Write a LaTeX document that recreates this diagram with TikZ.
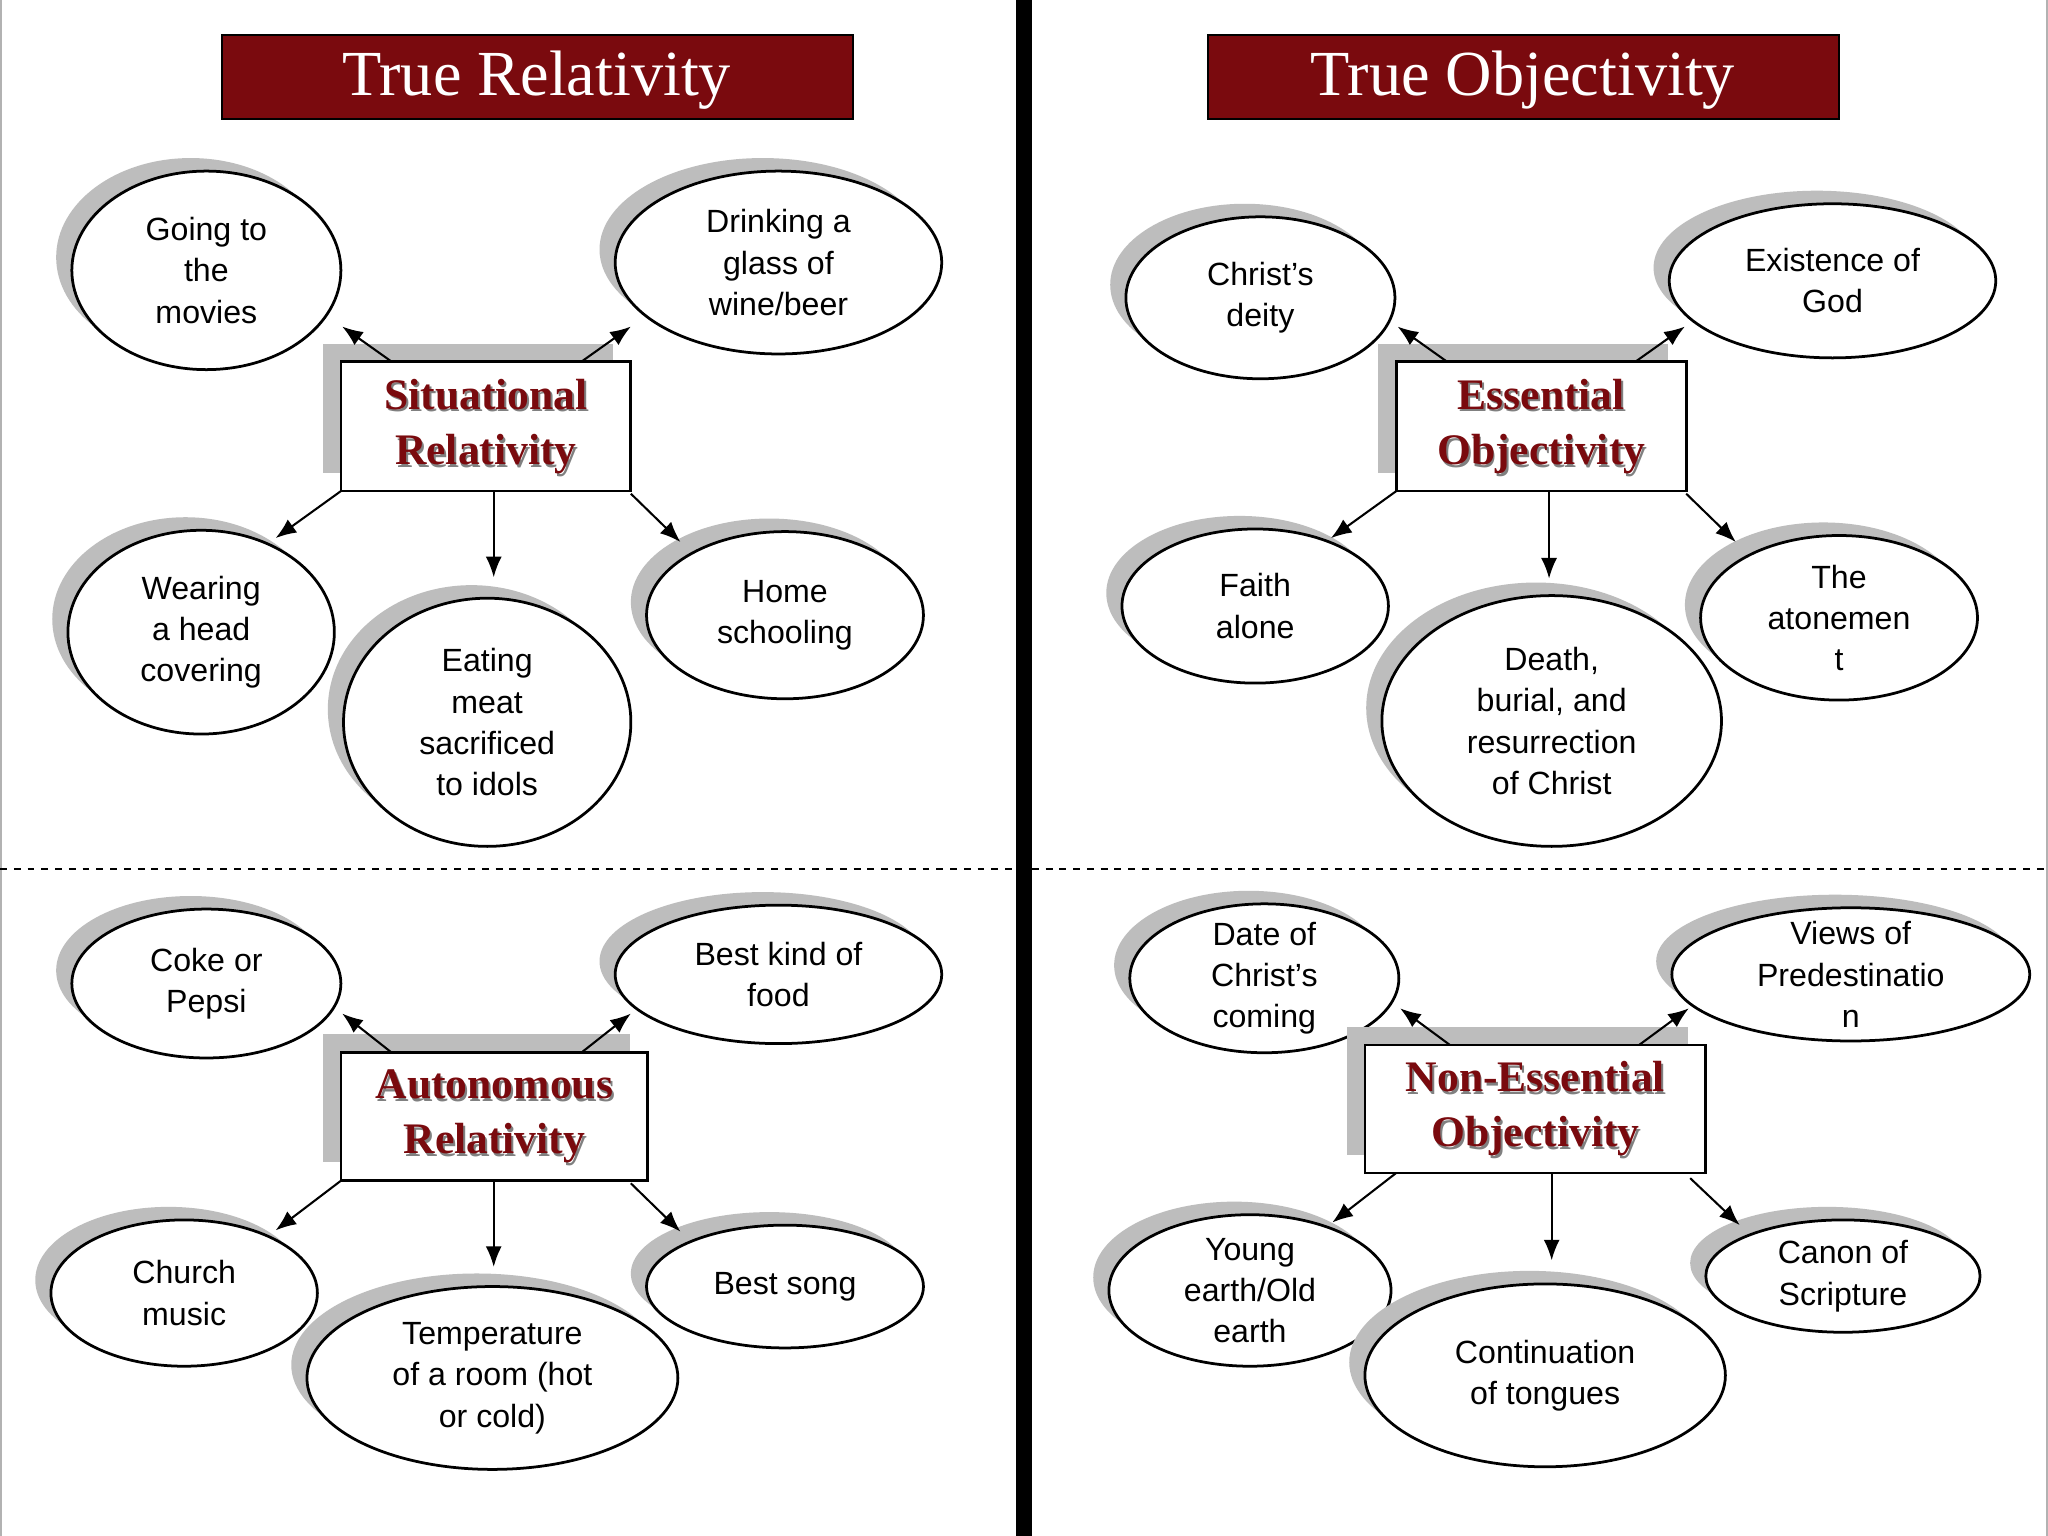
\documentclass[tikz,border=0pt]{standalone}
\usepackage{fontspec}
\setmainfont{Liberation Serif}
\setsansfont{Liberation Sans}
\usetikzlibrary{arrows.meta}
\definecolor{dred}{HTML}{7A0A0E}
\definecolor{shad}{HTML}{BDBDBD}
\tikzset{
 ell/.style={draw=black,line width=1.2pt,fill=white,ellipse,inner sep=0pt},
 lab/.style={font=\sffamily\fontsize{14}{18}\selectfont,align=center},
 arr/.style={-{Latex[length=9pt,width=7pt]},line width=0.9pt},
 title/.style={fill=dred,draw=black,line width=0.8pt},
}
\newcommand\EL[6]{%
 \fill[shad] (#2-12,#3-10) ellipse [x radius=#4, y radius=#5];
 \draw[line width=1.2pt,fill=white] (#2,#3) ellipse [x radius=#4, y radius=#5];
 \node[lab] (#1) at (#2,#3) {#6};}
\newcommand\BX[7]{%
 \fill[shad] (#2-14,#3-14) rectangle (#4-14,#5-14);
 \draw[line width=1.2pt,fill=white] (#2,#3) rectangle (#4,#5);
 \node[font=\bfseries\fontsize{19}{24}\selectfont,text=gray,align=center] at ({(#2+#4)/2+1.5},{(#3+#5)/2+2}) {#6\\#7};
 \node[font=\bfseries\fontsize{19}{24}\selectfont,text=dred,align=center] (#1) at ({(#2+#4)/2},{(#3+#5)/2}) {#6\\#7};}
\begin{document}
\begin{tikzpicture}[x=0.02cm,y=-0.02cm]
\useasboundingbox (0,0) rectangle (1568,1176);
\fill[white] (0,0) rectangle (1568,1176);
\draw[gray!60,line width=1pt] (0.5,0) -- (0.5,1176);
\draw[gray!60,line width=1pt] (1567.5,0) -- (1567.5,1176);
\fill[black] (778,0) rectangle (790,1176);
\draw[dashed,line width=0.9pt] (0,665) -- (778,665);
\draw[dashed,line width=0.9pt] (790,665) -- (1568,665);
% titles
\draw[title] (170,27) rectangle (653,91);
\node[text=white,font=\fontsize{28}{30}\selectfont] (t1) at (411,61) {\textsc{True Relativity}};
\draw[title] (925,27) rectangle (1408,91);
\node[text=white,font=\fontsize{28}{30}\selectfont] (t2) at (1166,61) {\textsc{True Objectivity}};
% left top
\EL{a1}{158}{207}{103}{76}{Going to\\the\\movies}
\EL{a2}{596}{201}{125}{70}{Drinking a\\glass of\\wine/beer}
\EL{a3}{154}{484}{102}{78}{Wearing\\a head\\covering}
\EL{a4}{373}{553}{110}{95}{Eating\\meat\\sacrificed\\to idols}
\EL{a5}{601}{471}{106}{64}{Home\\schooling}
\BX{A}{261}{277}{483}{376}{Situational}{Relativity}
\coordinate (a1s) at (300,277); \coordinate (a1e) at (262,250);
\coordinate (a2s) at (445,277); \coordinate (a2e) at (483,250);
\coordinate (a3s) at (261,376); \coordinate (a3e) at (211,412);
\coordinate (a4s) at (378,376); \coordinate (a4e) at (378,442);
\coordinate (a5s) at (483,378); \coordinate (a5e) at (521,415);
\foreach \i in {1,...,5} \draw[arr] (a\i s) -- (a\i e);
% left bottom
\EL{b1}{158}{753}{103}{57}{Coke or\\Pepsi}
\EL{b2}{596}{746}{125}{53}{Best kind of\\food}
\EL{b3}{141}{990}{102}{56}{Church\\music}
\EL{b4}{377}{1055}{142}{70}{Temperature\\of a room (hot\\or cold)}
\EL{b5}{601}{985}{106}{47}{Best song}
\BX{B}{261}{806}{496}{904}{Autonomous}{Relativity}
\coordinate (b1s) at (300,806); \coordinate (b1e) at (262,776);
\coordinate (b2s) at (445,806); \coordinate (b2e) at (483,776);
\coordinate (b3s) at (261,904); \coordinate (b3e) at (211,942);
\coordinate (b4s) at (378,904); \coordinate (b4e) at (378,970);
\coordinate (b5s) at (483,906); \coordinate (b5e) at (521,943);
\foreach \i in {1,...,5} \draw[arr] (b\i s) -- (b\i e);
% right top
\EL{c1}{965}{228}{103}{62}{Christ’s\\deity}
\EL{c2}{1403}{215}{125}{59}{Existence of\\God}
\EL{c3}{961}{464}{102}{59}{Faith\\alone}
\EL{c4}{1188}{552}{130}{96}{Death,\\burial, and\\resurrection\\of Christ}
\EL{c5}{1408}{473}{106}{63}{The\\atonemen\\t}
\BX{C}{1069}{277}{1291}{376}{Essential}{Objectivity}
\coordinate (c1s) at (1108,277); \coordinate (c1e) at (1070,250);
\coordinate (c2s) at (1252,277); \coordinate (c2e) at (1290,250);
\coordinate (c3s) at (1069,376); \coordinate (c3e) at (1019,412);
\coordinate (c4s) at (1186,376); \coordinate (c4e) at (1186,443);
\coordinate (c5s) at (1291,378); \coordinate (c5e) at (1329,415);
\foreach \i in {1,...,5} \draw[arr] (c\i s) -- (c\i e);
% right bottom
\EL{d1}{968}{749}{103}{57}{Date of\\Christ’s\\coming}
\EL{d2}{1417}{746}{137}{51}{Views of\\Predestinatio\\n}
\EL{d3}{957}{988}{108}{58}{Young\\earth/Old\\earth}
\EL{d4}{1183}{1053}{138}{70}{Continuation\\of tongues}
\EL{d5}{1411}{977}{105}{43}{Canon of\\Scripture}
\BX{D}{1045}{800}{1306}{898}{Non-Essential}{Objectivity}
\coordinate (d1s) at (1110,800); \coordinate (d1e) at (1072,772);
\coordinate (d2s) at (1255,800); \coordinate (d2e) at (1293,772);
\coordinate (d3s) at (1069,898); \coordinate (d3e) at (1020,936);
\coordinate (d4s) at (1188,898); \coordinate (d4e) at (1188,965);
\coordinate (d5s) at (1294,902); \coordinate (d5e) at (1332,938);
\foreach \i in {1,...,5} \draw[arr] (d\i s) -- (d\i e);
\end{tikzpicture}
\end{document}
